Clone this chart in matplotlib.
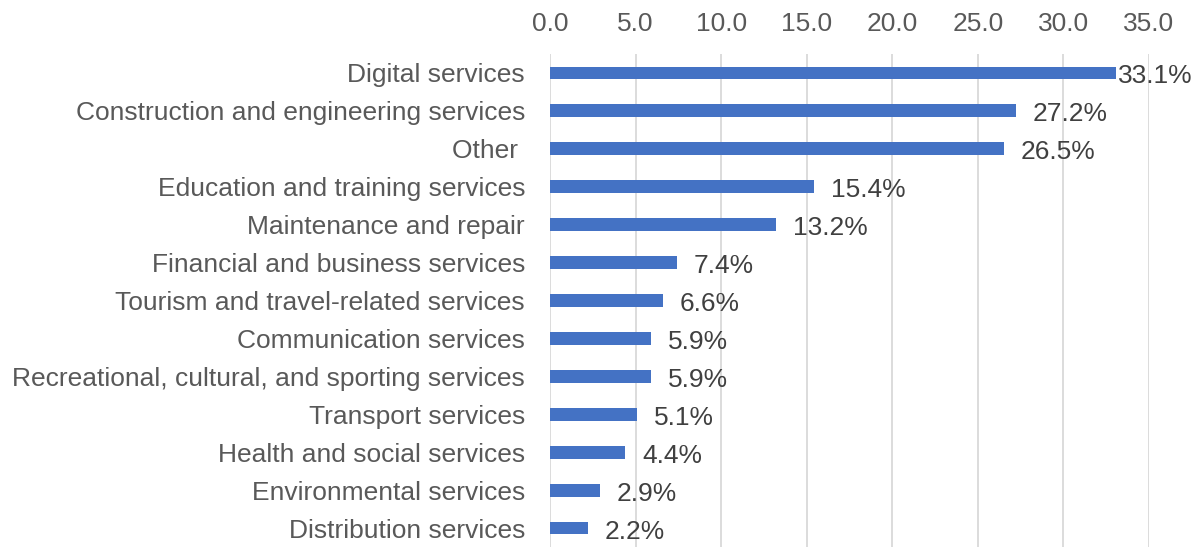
import matplotlib
matplotlib.use("Agg")
import matplotlib.pyplot as plt

categories = [
    "Digital services",
    "Construction and engineering services",
    "Other ",
    "Education and training services",
    "Maintenance and repair",
    "Financial and business services",
    "Tourism and travel-related services",
    "Communication services",
    "Recreational, cultural, and sporting services",
    "Transport services",
    "Health and social services",
    "Environmental services",
    "Distribution services",
]
values = [33.1, 27.2, 26.5, 15.4, 13.2, 7.4, 6.6, 5.9, 5.9, 5.1, 4.4, 2.9, 2.2]
xticks = [0, 5, 10, 15, 20, 25, 30, 35]

plt.rcParams['font.family'] = ['Liberation Sans', 'DejaVu Sans']

W, H = 1199, 547
FS = 19
fig = plt.figure(figsize=(W / 100, H / 100), dpi=100)
ax = fig.add_axes([550 / W, 0.0, 599 / W, 1 - 54 / H])

y = list(range(len(categories)))
ax.barh(y, values, height=0.34, color="#4472C4", zorder=3)
ax.set_ylim(len(categories) - 0.5, -0.5)
ax.set_xlim(0, 35)
ax.set_xticks(xticks)
ax.set_xticklabels([f"{t:.1f}" for t in xticks])
ax.xaxis.tick_top()
ax.tick_params(axis='x', length=0, pad=13, labelsize=FS, labelcolor="#595959")
ax.set_yticks(y)
ax.set_yticklabels(categories)
ax.tick_params(axis='y', length=0, pad=18, labelsize=FS, labelcolor="#595959")
ax.grid(axis='x', color="#D9D9D9", linewidth=1.3, zorder=0)
for s in ax.spines.values():
    s.set_visible(False)

px_per_unit = 599 / 35
for i, v in enumerate(values):
    off = 17
    end_px = 550 + v * px_per_unit
    if end_px + off + 80 > W:
        off = 2
    ax.annotate(f"{v:.1f}%", (v, i), xytext=(off * 0.72, -2.5), textcoords="offset points",
                va="center", ha="left", fontsize=FS, color="#404040", zorder=4,
                annotation_clip=False)

fig.savefig("out.png", dpi=100)
